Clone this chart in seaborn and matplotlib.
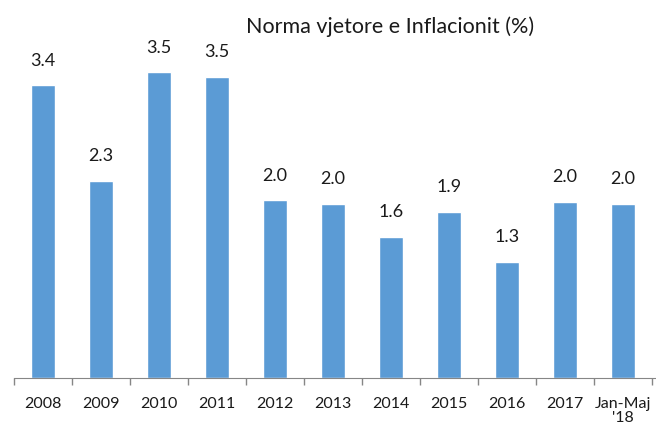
import pandas as pd
import matplotlib.pyplot as plt
import seaborn as sns
from matplotlib.ticker import FixedLocator

# data
periods = ['2008', '2009', '2010', '2011', '2012', '2013', '2014', '2015', '2016', '2017', "Jan-Maj\n'18"]
values = [3.36, 2.26, 3.51, 3.46, 2.04, 2.0, 1.62, 1.91, 1.33, 2.02, 2.0]
labels = ['3.4', '2.3', '3.5', '3.5', '2.0', '2.0', '1.6', '1.9', '1.3', '2.0', '2.0']

df = pd.DataFrame({'period': periods, 'value': values})

sns.set_style('white')
plt.rcParams['font.family'] = ['Lato', 'DejaVu Sans']

fig = plt.figure(figsize=(6.56, 4.34), dpi=100)
ax = fig.add_axes([14 / 656, 56 / 434, 642 / 656, 358 / 434])

sns.barplot(x='period', y='value', data=df, color='#5B9BD5', width=0.4,
            saturation=1, ax=ax)

# value labels
for p, lab in zip(ax.patches, labels):
    ax.annotate(lab, (p.get_x() + p.get_width() / 2, p.get_height()),
                xytext=(0, 12), textcoords='offset points',
                ha='center', va='bottom', fontsize=13, color='#1a1a1a')

ax.set_ylim(0, 4.11)
ax.set_xlim(-0.5, 10.57)
ax.set_xlabel('')
ax.set_ylabel('')
ax.set_yticks([])
for s in ['top', 'right', 'left']:
    ax.spines[s].set_visible(False)
ax.spines['bottom'].set_color('#868686')

# ticks on category boundaries
ax.xaxis.set_minor_locator(FixedLocator([i - 0.5 for i in range(len(periods) + 1)]))
ax.tick_params(axis='x', which='minor', bottom=True, length=5, width=1,
               color='#868686', direction='out')
ax.tick_params(axis='x', which='major', bottom=True, length=0, pad=14,
               labelsize=11.5, labelcolor='#1a1a1a')
for t in ax.get_xticklabels():
    t.set_linespacing(1.0)
    t.set_verticalalignment('top')

fig.text(390 / 656, 1 - 27 / 434, 'Norma vjetore e Inflacionit (%)',
         ha='center', va='center', fontsize=15.5, color='#1a1a1a')

plt.savefig('out.png', dpi=100)
